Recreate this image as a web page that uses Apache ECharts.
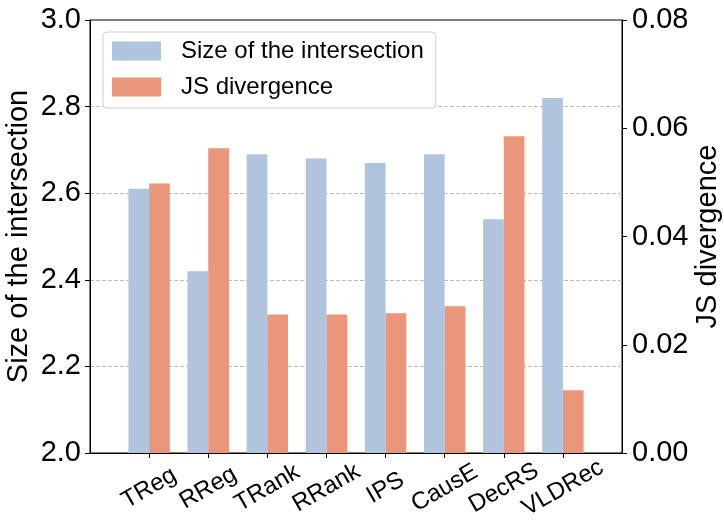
<!DOCTYPE html>
<html>
<head>
<meta charset="utf-8">
<script src="https://cdn.jsdelivr.net/npm/echarts@6/dist/echarts.min.js"></script>
<style>
  html, body { margin: 0; padding: 0; background: #fff; }
  #main { width: 724px; height: 526px; }
</style>
</head>
<body>
<div id="main"></div>
<script>
  // values
  const methods = ['TReg', 'RReg', 'TRank', 'RRank', 'IPS', 'CausE', 'DecRS', 'VLDRec'];
  const intersection = [2.61, 2.42, 2.69, 2.68, 2.67, 2.69, 2.54, 2.82];
  const jsDivergence = [0.0498, 0.0563, 0.0256, 0.0256, 0.0258, 0.0271, 0.0585, 0.0116];
  const leftTicks = [2.0, 2.2, 2.4, 2.6, 2.8, 3.0];
  const rightTicks = [0.00, 0.02, 0.04, 0.06, 0.08];

  const FONT = '"Liberation Sans", Arial, sans-serif';
  const positions = methods.map((m, i) => i);

  const chart = echarts.init(document.getElementById('main'));
  const option = {
    animation: false,
    backgroundColor: '#fff',
    textStyle: { fontFamily: FONT, color: '#000' },
    grid: {
      left: 90, right: 102, top: 20, bottom: 73,
      outerBoundsMode: 'none',
      containLabel: false,
      show: true, borderColor: '#000', borderWidth: 1, backgroundColor: '#fff'
    },
    legend: {
      orient: 'vertical',
      left: 103, top: 32,
      padding: [7, 12, 9, 9],
      icon: 'rect',
      itemWidth: 49, itemHeight: 19, itemGap: 12,
      backgroundColor: '#fff',
      borderColor: '#d0d0d0', borderWidth: 1, borderRadius: 4,
      textStyle: { fontSize: 24, fontFamily: FONT, color: '#000', padding: [0, 0, 0, 15] },
      data: ['Size of the intersection', 'JS divergence']
    },
    xAxis: {
      type: 'value',
      min: -1, max: 8, interval: 1,
      splitLine: { show: false },
      axisLine: { show: true, onZero: false, lineStyle: { color: '#000', width: 1 } },
      axisTick: { show: true, customValues: positions, length: 5, lineStyle: { color: '#000' } },
      axisLabel: {
        customValues: positions,
        formatter: v => methods[v],
        rotate: 30,
        align: 'center',
        verticalAlign: 'middle',
        margin: 35,
        fontSize: 24, fontFamily: FONT, color: '#000'
      }
    },
    yAxis: [
      {
        type: 'value',
        position: 'left',
        min: leftTicks[0], max: leftTicks[leftTicks.length - 1], interval: 0.2,
        name: 'Size of the intersection',
        nameLocation: 'middle', nameRotate: 90, nameGap: 57,
        nameMoveOverlap: false,
        nameTextStyle: { fontSize: 29, fontFamily: FONT, color: '#000' },
        axisLine: { show: true, onZero: false, lineStyle: { color: '#000', width: 1 } },
        axisTick: { show: true, length: 5, lineStyle: { color: '#000' } },
        axisLabel: {
          margin: 9, fontSize: 29, fontFamily: FONT, color: '#000',
          formatter: v => v.toFixed(1)
        },
        splitLine: {
          show: true, showMinLine: false, showMaxLine: false,
          lineStyle: { color: '#bdbdbd', type: [4, 2], width: 1 }
        }
      },
      {
        type: 'value',
        position: 'right',
        min: rightTicks[0], max: rightTicks[rightTicks.length - 1], interval: 0.02,
        name: 'JS divergence',
        nameLocation: 'middle', nameRotate: 90, nameGap: 71,
        nameMoveOverlap: false,
        nameTextStyle: { fontSize: 29, fontFamily: FONT, color: '#000' },
        axisLine: { show: true, onZero: false, lineStyle: { color: '#000', width: 1 } },
        axisTick: { show: true, length: 5, lineStyle: { color: '#000' } },
        axisLabel: {
          margin: 10, fontSize: 29, fontFamily: FONT, color: '#000',
          formatter: v => v.toFixed(2)
        },
        splitLine: { show: false }
      }
    ],
    series: [
      {
        name: 'Size of the intersection',
        type: 'bar',
        yAxisIndex: 0,
        barWidth: 20.7,
        barGap: 0,
        itemStyle: { color: '#b0c4de' },
        data: intersection.map((v, i) => [i, v])
      },
      {
        name: 'JS divergence',
        type: 'bar',
        yAxisIndex: 1,
        barWidth: 20.7,
        barGap: 0,
        itemStyle: { color: '#e9967a' },
        data: jsDivergence.map((v, i) => [i, v])
      }
    ]
  };
  chart.setOption(option);
</script>
</body>
</html>
